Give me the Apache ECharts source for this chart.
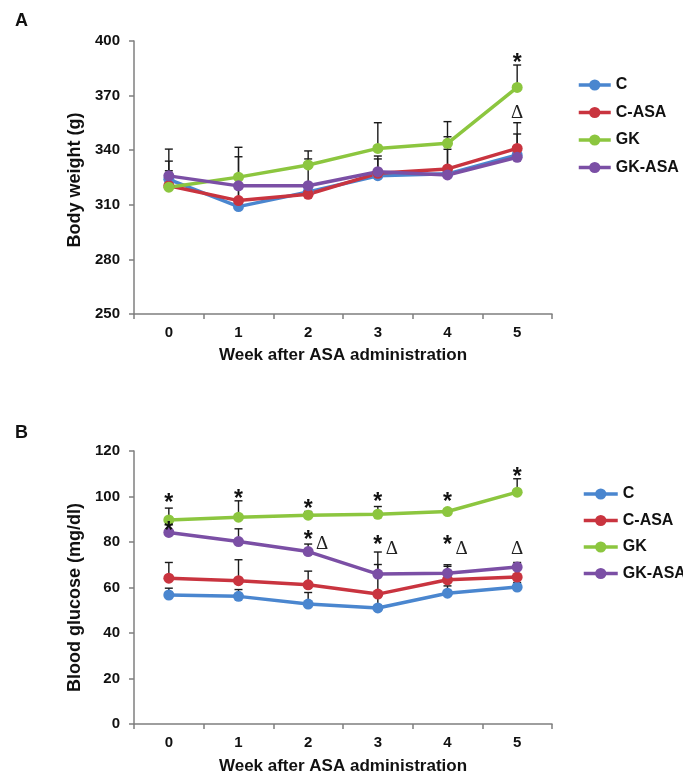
<!DOCTYPE html>
<html>
<head>
<meta charset="utf-8">
<script src="https://cdn.jsdelivr.net/npm/echarts@6/dist/echarts.min.js"></script>
<style>
  html, body { margin: 0; padding: 0; background: #fff; }
  #chart { width: 683px; height: 775px; }
</style>
</head>
<body>
<div id="chart"></div>
<script>
// weeks after ASA administration
const weeks = ["0", "1", "2", "3", "4", "5"];
const groups = ["C", "C-ASA", "GK", "GK-ASA"];
const colors = ["#4A86CF", "#C9343F", "#8CC63F", "#7B4FA5"];

// A: body weight (g), mean and error
const weightC = [324, 309, 317, 326, 327, 337.4];
const weightCAsa = [320.5, 312.3, 315.8, 327.3, 329.7, 341];
const weightGK = [319.7, 325.2, 331.9, 341, 343.8, 374.5];
const weightGKAsa = [325.9, 320.4, 320.5, 328.2, 326.4, 336.1];
const weightErrC = [10, 10, 3, 3, 4, 11.5];
const weightErrCAsa = [5, 8, 4, 7.9, 17.7, 14.1];
const weightErrGK = [9, 16.4, 7.7, 14.1, 11.9, 12.3];
const weightErrGKAsa = [14.7, 16, 14.7, 8.6, 14.1, 4];

// B: blood glucose (mg/dl)
const glucoseC = [56.7, 56.1, 52.7, 51, 57.5, 60.2];
const glucoseCAsa = [64.1, 63, 61.2, 57.1, 63.4, 64.6];
const glucoseGK = [89.7, 90.9, 91.8, 92.2, 93.4, 101.9];
const glucoseGKAsa = [84.2, 80.2, 75.8, 65.9, 66.3, 69];
const glucoseErrC = [3, 3, 5.1, 6.8, 3.2, 2];
const glucoseErrCAsa = [6.9, 9.2, 6, 13, 6.6, 4];
const glucoseErrGK = [5.2, 7.2, 1.6, 3.4, 1, 5.9];
const glucoseErrGKAsa = [5, 5.6, 3.3, 9.7, 3, 2];

// significance marks: [week, value, mark]
const marksA = [[5, 390.6, "*"], [5, 361, "Δ"]];
const marksB = [
  [0, 99.4, "*"], [1, 101.2, "*"], [2, 96.8, "*"], [3, 100, "*"], [4, 99.8, "*"], [5, 111, "*"],
  [0, 87.2, "*"], [2, 83.2, "*Δ"], [3, 81, "*Δ"], [4, 81, "*Δ"], [5, 77.4, "Δ"]
];

const font = "Liberation Sans";
const axisColor = "#7f7f7f";

function errData(means, errs) {
  const out = [];
  means.forEach((m, s) => {
    m.forEach((v, i) => out.push([i, v, v + errs[s][i]]));
  });
  return out;
}

function errSeries(idx, data) {
  return {
    type: "custom",
    xAxisIndex: idx,
    yAxisIndex: idx,
    z: 1,
    silent: true,
    data: data,
    renderItem: function (params, api) {
      const p = api.coord([api.value(0), api.value(1)]);
      const t = api.coord([api.value(0), api.value(2)]);
      const st = { stroke: "#1a1a1a", lineWidth: 1.4 };
      return {
        type: "group",
        children: [
          { type: "line", shape: { x1: p[0], y1: p[1], x2: p[0], y2: t[1] }, style: st },
          { type: "line", shape: { x1: p[0] - 4, y1: t[1], x2: p[0] + 4, y2: t[1] }, style: st },
        ],
      };
    },
  };
}

function markSeries(idx, marks) {
  return {
    type: "custom",
    xAxisIndex: idx,
    yAxisIndex: idx,
    z: 5,
    silent: true,
    data: marks.map((m) => [m[0], m[1]]),
    renderItem: function (params, api) {
      const p = api.coord([api.value(0), api.value(1)]);
      const label = marks[params.dataIndex][2];
      const star = {
        type: "text",
        x: p[0],
        y: p[1] + 6,
        style: { text: "*", fill: "#111", font: "bold 23px " + font, align: "center", verticalAlign: "middle" },
      };
      const delta = (dx, dy) => ({
        type: "text",
        x: p[0] + dx,
        y: p[1] + dy,
        style: { text: "Δ", fill: "#222", font: "19px Liberation Serif", align: "center", verticalAlign: "middle" },
      });
      let children = [];
      if (label === "*") children = [star];
      else if (label === "Δ") children = [delta(0, 1)];
      else children = [star, delta(14, 9)];
      return { type: "group", children: children };
    },
  };
}

function lineSeries(idx, name, data, color) {
  return {
    name: name,
    type: "line",
    xAxisIndex: idx,
    yAxisIndex: idx,
    z: 2,
    data: data,
    symbol: "circle",
    symbolSize: 11,
    color: color,
    lineStyle: { width: 3.5, color: color },
    itemStyle: { color: color },
  };
}

function xAxisOf(idx, gap) {
  return {
    type: "category",
    gridIndex: idx,
    data: weeks,
    boundaryGap: true,
    name: "Week after ASA administration",
    nameLocation: "middle",
    nameGap: gap,
    nameTextStyle: { fontFamily: font, fontWeight: "bold", fontSize: 17, color: "#111" },
    axisLine: { lineStyle: { color: axisColor, width: 1.5 } },
    axisTick: { show: true, length: 5, lineStyle: { color: axisColor, width: 1.5 } },
    axisLabel: { fontFamily: font, fontWeight: "bold", fontSize: 15, color: "#111", margin: 11 },
    splitLine: { show: false },
  };
}

function yAxisOf(idx, name, min, max, interval, shift) {
  return {
    type: "value",
    gridIndex: idx,
    min: min,
    max: max,
    interval: interval,
    name: name,
    nameLocation: "middle",
    nameGap: 47,
    nameTextStyle: { fontFamily: font, fontWeight: "bold", fontSize: 18, color: "#111", padding: [0, shift, 0, 0] },
    axisLine: { show: true, lineStyle: { color: axisColor, width: 1.5 } },
    axisTick: { show: true, length: 5, lineStyle: { color: axisColor, width: 1.5 } },
    axisLabel: { fontFamily: font, fontWeight: "bold", fontSize: 15, color: "#111", margin: 14 },
    splitLine: { show: false },
  };
}

const legendBase = {
  orient: "vertical",
  data: groups,
  padding: 0,
  itemWidth: 32,
  itemHeight: 14,
  itemGap: 11.5,
  lineStyle: { width: 3.5 },
  textStyle: { fontFamily: font, fontWeight: "bold", fontSize: 16, color: "#111" },
};

const weightMeans = [weightC, weightCAsa, weightGK, weightGKAsa];
const weightErrs = [weightErrC, weightErrCAsa, weightErrGK, weightErrGKAsa];
const glucoseMeans = [glucoseC, glucoseCAsa, glucoseGK, glucoseGKAsa];
const glucoseErrs = [glucoseErrC, glucoseErrCAsa, glucoseErrGK, glucoseErrGKAsa];

const option = {
  animation: false,
  textStyle: { fontFamily: font },
  title: [
    { text: "A", left: 15, top: 12, padding: 0, textStyle: { fontFamily: font, fontWeight: "bold", fontSize: 18, color: "#111" } },
    { text: "B", left: 15, top: 424, padding: 0, textStyle: { fontFamily: font, fontWeight: "bold", fontSize: 18, color: "#111" } },
  ],
  legend: [
    Object.assign({}, legendBase, { left: 577, top: 77 }),
    Object.assign({}, legendBase, { left: 582, top: 486, itemWidth: 34, itemGap: 10.5 }),
  ],
  grid: [
    { left: 134, top: 41, width: 418, height: 273, outerBoundsMode: "none" },
    { left: 134, top: 451, width: 418, height: 273, outerBoundsMode: "none" },
  ],
  xAxis: [xAxisOf(0, 33), xAxisOf(1, 34)],
  yAxis: [
    yAxisOf(0, "Body weight (g)", 250, 400, 30, 5),
    yAxisOf(1, "Blood glucose (mg/dl)", 0, 120, 20, 20),
  ],
  series: [
    errSeries(0, errData(weightMeans, weightErrs)),
    errSeries(1, errData(glucoseMeans, glucoseErrs)),
  ]
    .concat(groups.map((g, i) => lineSeries(0, g, weightMeans[i], colors[i])))
    .concat(groups.map((g, i) => lineSeries(1, g, glucoseMeans[i], colors[i])))
    .concat([markSeries(0, marksA), markSeries(1, marksB)]),
};

const chart = echarts.init(document.getElementById("chart"));
chart.setOption(option);
</script>
</body>
</html>
